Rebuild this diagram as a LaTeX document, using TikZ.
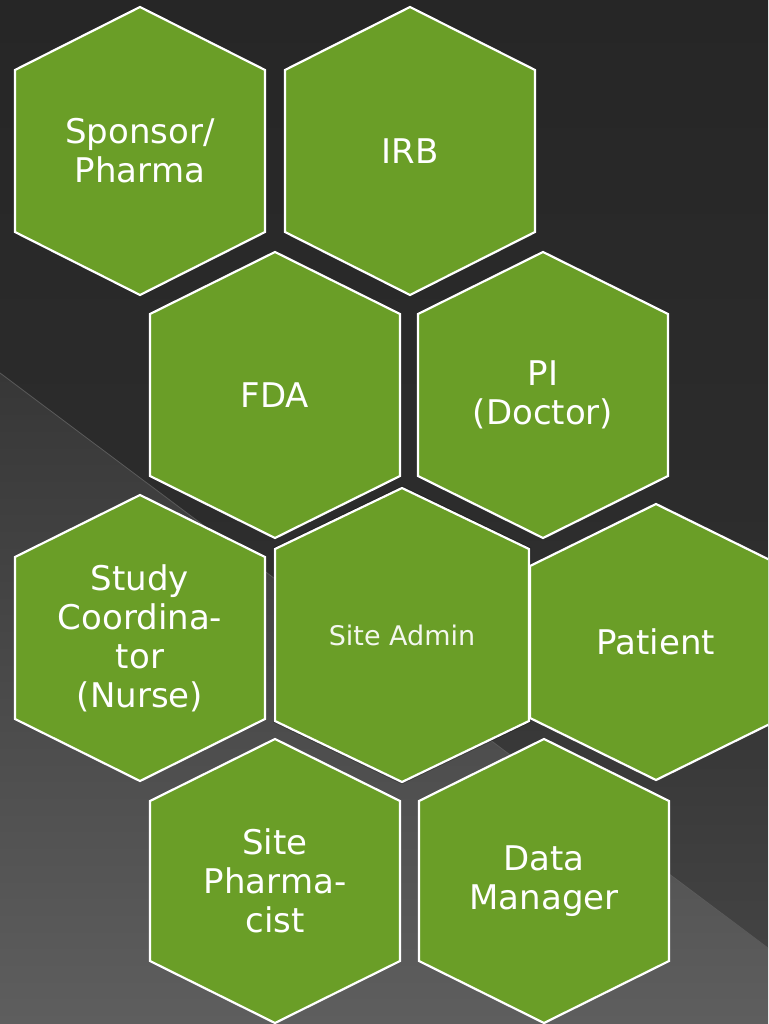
\documentclass[tikz,border=0pt]{standalone}
\usepackage{fontspec}
\setmainfont{DejaVu Sans}
\definecolor{cellgreen}{HTML}{6A9E27}
\definecolor{bgtop}{HTML}{262626}
\definecolor{bgmid}{HTML}{2C2C2C}
\definecolor{bgbot}{HTML}{474747}
\definecolor{wedgetop}{HTML}{373737}
\definecolor{wedgebot}{HTML}{5E5E5E}
\definecolor{seam}{HTML}{5A5A5A}
\tikzset{
  cellbox/.style={fill=cellgreen, draw=white, line width=2.2pt, line join=miter},
  celltext/.style={text=white, align=center, font=\fontsize{34}{39}\selectfont, inner sep=0pt},
  smalltext/.style={text=white!92!cellgreen, align=center, font=\fontsize{27}{32}\selectfont, inner sep=0pt}
}
% #1 name, #2 cx, #3 cy, #4 half width, #5 half height, #6 rise of slanted sides, #7 style, #8 label
\newcommand\hexcell[8]{%
  \path[cellbox] ({#2},{#3-#5}) -- ({#2+#4},{#3-#5+#6}) -- ({#2+#4},{#3+#5-#6})
    -- ({#2},{#3+#5}) -- ({#2-#4},{#3+#5-#6}) -- ({#2-#4},{#3-#5+#6}) -- cycle;
  \node[#7] (#1) at ({#2},{#3}) {#8};}
\begin{document}
\begin{tikzpicture}[x=1pt, y=-1pt]
\useasboundingbox (0,0) rectangle (768,1024);
\clip (0,0) rectangle (768,1024);
% background: dark upper field and lighter lower wedge
\shade[top color=bgtop, bottom color=bgbot, middle color=bgmid] (0,0) rectangle (768,1024);
\shade[top color=wedgetop, bottom color=wedgebot] (0,373) -- (768,948) -- (768,1024) -- (0,1024) -- cycle;
\coordinate (seamA) at (0,373);
\coordinate (seamB) at (768,948);
\draw[seam, line width=0.8pt] (seamA) -- (seamB);
% top row
\hexcell{sponsor}{140}{151}{125}{144}{63}{celltext}{Sponsor/\\Pharma}
\hexcell{irb}{410}{151}{125}{144}{63}{celltext}{IRB}
% second row
\hexcell{fda}{275}{395}{125}{143}{62}{celltext}{FDA}
\hexcell{pi}{543}{395}{125}{143}{62}{celltext}{PI\\(Doctor)}
% third row
\hexcell{coord}{140}{638}{125}{143}{62}{celltext}{Study\\Coordina-\\tor\\(Nurse)}
\path[draw=black, opacity=0.25, line width=4pt]
  (402,488) -- (529,549) -- (529,721) -- (402,782) -- (275,721) -- (275,549) -- cycle;
\hexcell{admin}{402}{635}{127}{147}{61}{smalltext}{Site Admin}
\hexcell{patient}{656}{642}{126}{138}{62}{celltext}{Patient}
% bottom row
\hexcell{pharm}{275}{881}{125}{142}{62}{celltext}{Site\\Pharma-\\cist}
\hexcell{data}{544}{881}{125}{142}{62}{celltext}{Data\\Manager}
\end{tikzpicture}
\end{document}
